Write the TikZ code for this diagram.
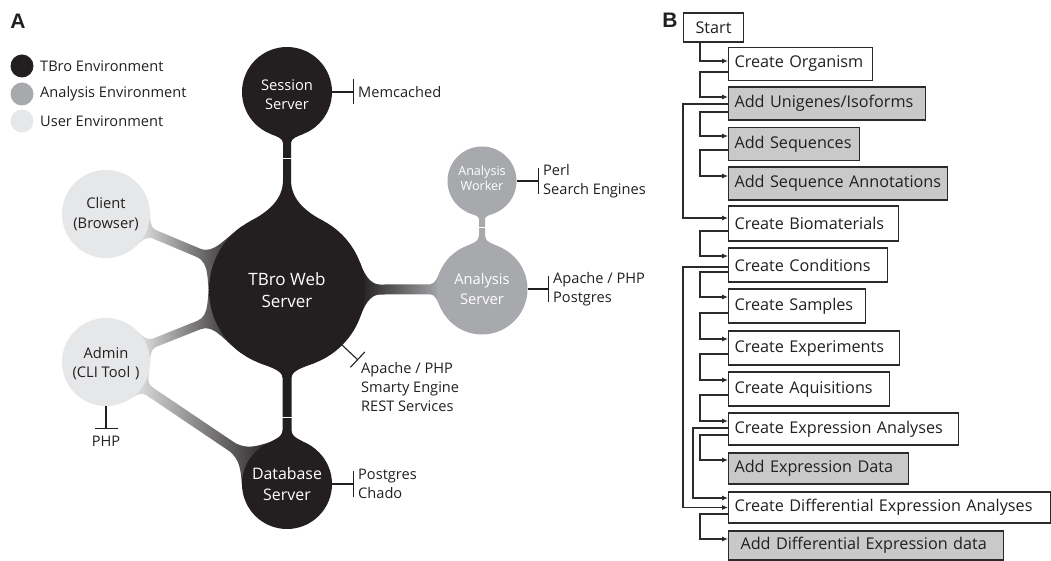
\documentclass[tikz,border=0pt]{standalone}
\usepackage{fontspec}
\setmainfont{Open Sans}
\newfontfamily\labfont{Liberation Sans}
\usetikzlibrary{arrows.meta,calc,backgrounds}
\definecolor{ctbro}{HTML}{231F20}
\definecolor{cana}{HTML}{A7A9AC}
\definecolor{cuser}{HTML}{E6E7E8}
\definecolor{cgray}{HTML}{C9C9C9}
\definecolor{cline}{HTML}{2B2B2B}
\definecolor{ctxt}{HTML}{231F20}
\pgfqkeys{/neck}{ra/.store in=\nkra, rb/.store in=\nkrb, h/.store in=\nkh,
  fa/.store in=\nkfa, fb/.store in=\nkfb, pa/.store in=\nkpa, pb/.store in=\nkpb}
\newcommand\neck[4]{%
  \path let \p1=(#2.center), \p2=(#3.center) in
   \pgfextra{\pgfmathsetmacro\nkang{atan2((\y2)-(\y1),(\x2)-(\x1))}%
   \pgfmathsetmacro\nkd{veclen((\x2)-(\x1),(\y2)-(\y1))}%
   \xdef\nkAng{\nkang}\xdef\nkD{\nkd}};
  \begin{scope}[shift={(#2.center)},rotate=\nkAng]
  \pgfqkeys{/neck}{#4}%
  \pgfmathsetmacro\nAx{\nkra*cos(\nkfa)}%
  \pgfmathsetmacro\nAv{\nkra*sin(\nkfa)}%
  \pgfmathsetmacro\nBx{\nkD-\nkrb*cos(\nkfb)}%
  \pgfmathsetmacro\nBv{\nkrb*sin(\nkfb)}%
  \pgfmathsetmacro\nkt{(\nAv-\nkh)*0.5/cos(\nkfa)}%
  \pgfmathsetmacro\ncax{\nAx+\nkt*sin(\nkfa)}%
  \pgfmathsetmacro\ncav{\nAv-\nkt*cos(\nkfa)}%
  \pgfmathsetmacro\ncbx{\nkpa-(\nkpa-\nAx)*0.5}%
  \pgfmathsetmacro\nkt{(\nBv-\nkh)*0.5/cos(\nkfb)}%
  \pgfmathsetmacro\ncdx{\nBx-\nkt*sin(\nkfb)}%
  \pgfmathsetmacro\ncdv{\nBv-\nkt*cos(\nkfb)}%
  \pgfmathsetmacro\nccx{\nkpb+(\nBx-\nkpb)*0.5}%
  \path[#1] (\nAx,\nAv) .. controls (\ncax,\ncav) and (\ncbx,\nkh) .. (\nkpa,\nkh)
    -- (\nkpb,\nkh) .. controls (\nccx,\nkh) and (\ncdx,\ncdv) .. (\nBx,\nBv)
    -- (\nBx,-\nBv) .. controls (\ncdx,-\ncdv) and (\nccx,-\nkh) .. (\nkpb,-\nkh)
    -- (\nkpa,-\nkh) .. controls (\ncbx,-\nkh) and (\ncax,-\ncav) .. (\nAx,-\nAv) -- cycle;
  \end{scope}}
\tikzset{
  lbl/.style={font=\fontsize{14.6}{19}\selectfont, text=ctxt, inner sep=0pt, align=left},
  envc/.style={circle, inner sep=0pt, align=center, font=\fontsize{14.7}{19}\selectfont},
  tbroc/.style={envc, fill=ctbro, text=white},
  anac/.style={envc, fill=cana, text=white},
  usrc/.style={envc, fill=cuser, text=ctxt},
  tbar/.style={draw=ctxt, line width=1.1pt, -{Bar[width=#1,line width=1.1pt]}},
  tbar/.default=26pt,
  fbox/.style={draw=cline, line width=1.1pt, anchor=west, inner xsep=6pt, inner ysep=0pt,
    minimum height=33pt, align=left, font=\fontsize{16.2}{20}\selectfont, text=ctxt},
  gbox/.style={fbox, fill=cgray},
  flow/.style={draw=cline, line width=1.1pt, -{Latex[length=6pt,width=5pt]}},
  title/.style={font=\labfont\bfseries\fontsize{21}{21}\selectfont, inner sep=0pt, text=ctxt}
}
\begin{document}
\begin{tikzpicture}[x=1pt,y=-1pt]
\useasboundingbox (0,0) rectangle (1051,561);
% ---------- Panel A ----------
\node[title] (tA) at (18,21) {A};
\node[tbroc, minimum size=23pt] (lg1) at (22,66) {};
\node[anac, minimum size=23pt] (lg2) at (22,94) {};
\node[usrc, minimum size=23pt] (lg3) at (22,121) {};
\node[lbl, anchor=west] (lt1) at (40,66) {TBro Environment};
\node[lbl, anchor=west] (lt2) at (40,94) {Analysis Environment};
\node[lbl, anchor=west] (lt3) at (40,121) {User Environment};

\node[tbroc, minimum size=90pt] (ss) at (287,92) {\rule{0pt}{16.5pt}Session\\Server};
\node[tbroc, minimum size=156pt, font=\fontsize{17}{22}\selectfont] (web) at (287,290) {TBro Web\\Server};
\node[anac, minimum size=69pt, font=\fontsize{12.6}{15}\selectfont] (aw) at (482,181) {Analysis\\Worker\rule[-5pt]{0pt}{5pt}};
\node[anac, minimum size=91pt, font=\fontsize{14.7}{20}\selectfont] (as) at (482,289) {Analysis\\Server};
\node[usrc, minimum size=88pt, font=\fontsize{14.7}{20}\selectfont] (cl) at (106,214) {Client\\(Browser)};
\node[usrc, minimum size=88pt] (adm) at (106,362) {\rule{0pt}{14pt}Admin\\(CLI Tool\,\,)};
\node[tbroc, minimum size=90pt, font=\fontsize{15.9}{21}\selectfont] (db) at (287,484) {Database\\Server};

\begin{pgfonlayer}{background}
\neck{fill=ctbro}{ss}{web}{ra=45,rb=78,h=4,fa=22,fb=28,pa=51,pb=88}
\neck{fill=cana}{aw}{as}{ra=34.5,rb=45.5,h=3,fa=25,fb=28,pa=38,pb=55}
\neck{fill=ctbro}{web}{db}{ra=78,rb=45,h=4.5,fa=22,fb=35,pa=88,pb=140}
\neck{left color=ctbro, right color=cana}{web}{as}{ra=78,rb=45.5,h=5,fa=20,fb=25,pa=93,pb=143}
\neck{left color=cuser, right color=ctbro}{cl}{web}{ra=44,rb=78,h=4.5,fa=25,fb=32,pa=52,pb=100}
\neck{left color=cuser, right color=ctbro}{adm}{web}{ra=44,rb=78,h=4.5,fa=25,fb=32,pa=52,pb=100}
\neck{left color=cuser, right color=ctbro}{adm}{db}{ra=44,rb=45,h=5,fa=25,fb=40,pa=52,pb=150}
\end{pgfonlayer}
\draw[white, line width=0.8pt] (281,158) -- (293,158);
\draw[white, line width=0.8pt] (476,227) -- (488,227);
\draw[white, line width=0.8pt] (281,417) -- (293,417);

\node[lbl, anchor=west] (memc) at (358,92) {Memcached};
\draw[tbar=25pt] (ss.east) -- ([xshift=-4pt]memc.west);
\node[lbl, anchor=west] (awt) at (543,181) {Perl\\Search Engines};
\draw[tbar] (aw.east) -- ([xshift=-4pt]awt.west);
\node[lbl, anchor=west] (ast) at (553,289) {Apache / PHP\\Postgres};
\draw[tbar] (as.east) -- ([xshift=-4pt]ast.west);
\node[lbl, anchor=west] (dbt) at (358,484) {Postgres\\Chado};
\draw[tbar] (db.east) -- ([xshift=-4pt]dbt.west);
\coordinate (wbar) at (358,360);
\draw[tbar=21pt] (web.-45) -- (wbar);
\node[lbl, anchor=north west] (wtx) at (361,362) {Apache / PHP\\Smarty Engine\\REST Services};
\coordinate (phpbar) at (106,429);
\draw[tbar=23pt] (adm.south) -- (phpbar);
\node[lbl] (php) at (106,441) {PHP};

% ---------- Panel B ----------
\node[title] (tB) at (670,20) {B};
\node[fbox, text width=48pt, align=center, minimum height=29pt] (st) at (683,27.5) {Start};
\node[fbox, text width=132pt] (co) at (728,64) {\mbox{Create Organism}};
\node[gbox, text width=185pt] (au) at (728,103.5) {\mbox{Add Unigenes/Isoforms}};
\node[gbox, text width=119pt] (asq) at (728,144) {\mbox{Add Sequences}};
\node[gbox, text width=207pt] (asa) at (728,183.5) {\mbox{Add Sequence Annotations}};
\node[fbox, text width=158pt, minimum height=35pt] (cb) at (728,223.5) {\mbox{Create Biomaterials}};
\node[fbox, text width=147pt, minimum height=34pt] (cc) at (728,265) {\mbox{Create Conditions}};
\node[fbox, text width=125pt, minimum height=34pt] (cs) at (728,306) {\mbox{Create Samples}};
\node[fbox, text width=159pt, minimum height=34pt] (ce) at (728,348) {\mbox{Create Experiments}};
\node[fbox, text width=149pt, minimum height=34pt] (ca) at (728,389) {\mbox{Create Aquisitions}};
\node[fbox, text width=218pt, minimum height=32pt] (cea) at (728,429) {\mbox{Create Expression Analyses}};
\node[gbox, text width=168pt, minimum height=31pt] (aed) at (728,468.5) {\mbox{Add Expression Data}};
\node[fbox, text width=310pt, minimum height=31pt] (cdea) at (728,507.5) {\mbox{Create Differential Expression Analyses}};
\node[gbox, text width=263pt, minimum height=29pt] (aded) at (728,545.5) {\mbox{\hspace{6pt}Add Differential Expression data}};

\draw[flow] ([xshift=17pt]st.south west) |- ([yshift=3pt]co.west);
\draw[flow] ([yshift=-8pt]co.west) -- ++(-28,0) |- ([yshift=6.5pt]au.west);
\draw[flow] ([yshift=-8.5pt]au.west) -- ++(-28,0) |- ([yshift=8pt]asq.west);
\draw[flow] ([yshift=-6pt]asq.west) -- ++(-28,0) |- ([yshift=7.5pt]asa.west);
\draw[flow] ([yshift=-0.5pt]au.west) -- ++(-45,0) |- ([yshift=5.5pt]cb.west);
\draw[flow] ([yshift=-7.5pt]cb.west) -- ++(-28,0) |- ([yshift=9pt]cc.west);
\draw[flow] ([yshift=-7pt]cc.west) -- ++(-28,0) |- ([yshift=9pt]cs.west);
\draw[flow] ([yshift=-2pt]cc.west) -- ++(-45,0) |- (cdea.west);
\draw[flow] ([yshift=-7pt]cs.west) -- ++(-28,0) |- ([yshift=9pt]ce.west);
\draw[flow] ([yshift=-6pt]ce.west) -- ++(-28,0) |- ([yshift=9pt]ca.west);
\draw[flow] ([yshift=-6pt]ca.west) -- ++(-28,0) |- ([yshift=8pt]cea.west);
\draw[flow] ([yshift=-6pt]cea.west) -- ++(-28,0) |- ([yshift=8.5pt]aed.west);
\draw[flow] ([yshift=1pt]cea.west) -- ++(-35,0) |- ([yshift=9.5pt]cdea.west);
\draw[flow] ([yshift=-6.5pt]cdea.west) -- ++(-28,0) |- ([yshift=6.5pt]aded.west);
\end{tikzpicture}
\end{document}
